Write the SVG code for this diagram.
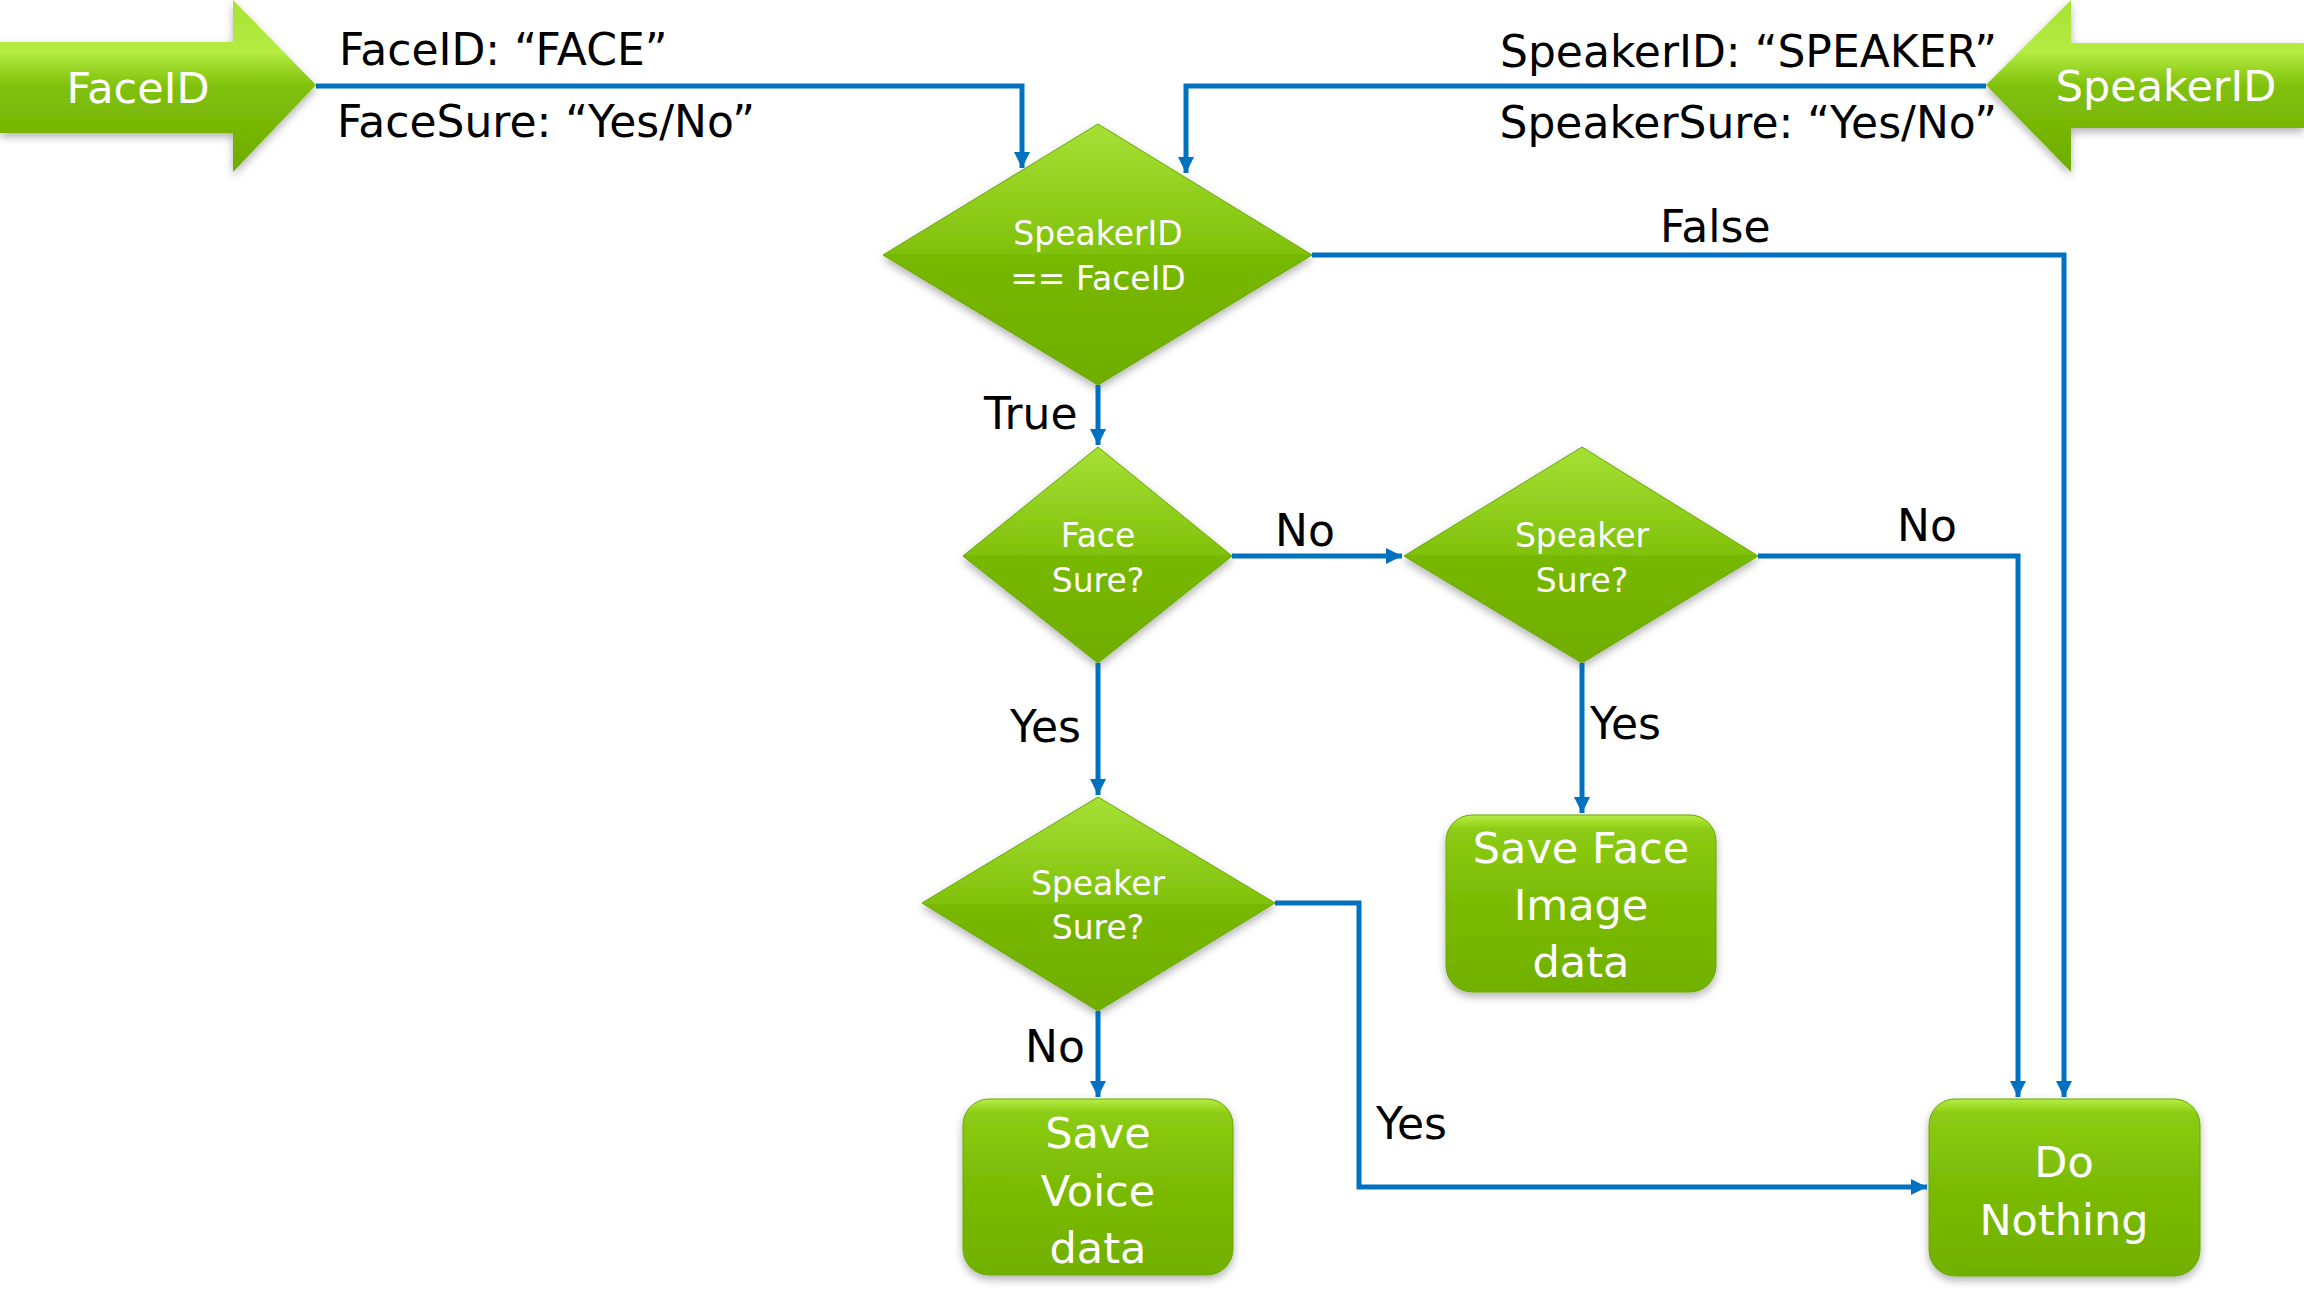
<svg xmlns="http://www.w3.org/2000/svg" width="2304" height="1296" viewBox="0 0 2304 1296">
  <defs>
    <style>
      .lbl { font-family: "DejaVu Sans", "Liberation Sans", sans-serif; font-size: 44px; fill: #000; }
      .ntxt { font-family: "DejaVu Sans", "Liberation Sans", sans-serif; fill: #fff; text-anchor: middle; }
      .dtxt { font-size: 33px; }
      .btxt { font-size: 43px; }
      .conn { fill: none; stroke: #0070c0; stroke-width: 5; marker-end: url(#tip); }
      .box { fill: url(#boxFill); stroke: #6aa800; stroke-width: 1; filter: url(#shadow); }
      .dia { fill: url(#diaFill); stroke: #6aa800; stroke-width: 1; filter: url(#shadow); }
      .arrowShape { fill: url(#arrowFill); filter: url(#shadow); }
    </style>
    <linearGradient id="boxFill" x1="0" y1="0" x2="0" y2="1">
      <stop offset="0" stop-color="#b6ee44"/>
      <stop offset="0.08" stop-color="#8ccc14"/>
      <stop offset="0.5" stop-color="#7abb04"/>
      <stop offset="1" stop-color="#71b000"/>
    </linearGradient>
    <linearGradient id="diaFill" x1="0" y1="0" x2="0" y2="1">
      <stop offset="0" stop-color="#a6e036"/>
      <stop offset="0.5" stop-color="#80c10a"/>
      <stop offset="0.5" stop-color="#77b800"/>
      <stop offset="1" stop-color="#6fae00"/>
    </linearGradient>
    <linearGradient id="arrowFill" x1="0" y1="0" x2="0" y2="1">
      <stop offset="0" stop-color="#a8e034"/>
      <stop offset="0.3" stop-color="#b4ec42"/>
      <stop offset="0.5" stop-color="#80c10a"/>
      <stop offset="1" stop-color="#6dac00"/>
    </linearGradient>
    <filter id="shadow" x="-10%" y="-10%" width="120%" height="125%">
      <feDropShadow dx="0" dy="4" stdDeviation="4" flood-color="#000" flood-opacity="0.3"/>
    </filter>
    <marker id="tip" markerUnits="userSpaceOnUse" markerWidth="16" markerHeight="16" refX="16" refY="8" orient="auto">
      <path d="M0,0 L16,8 L0,16 z" fill="#0070c0"/>
    </marker>
  </defs>

  <rect width="2304" height="1296" fill="#fff"/>

  <!-- input arrows -->
  <g id="faceid-input">
    <polygon class="arrowShape" points="0,42 233,42 233,0 316,85 233,172 233,133 0,133"/>
    <text class="ntxt btxt" x="138" y="103">FaceID</text>
  </g>
  <g id="speakerid-input">
    <polygon class="arrowShape" points="2304,43 2071,43 2071,0 1986,85 2071,172 2071,128 2304,128"/>
    <text class="ntxt btxt" x="2166" y="101">SpeakerID</text>
  </g>

  <!-- decisions -->
  <g id="id-match">
    <polygon class="dia" points="1098,124 1312,255 1098,385 883,255"/>
    <text class="ntxt dtxt" x="1098" y="245">SpeakerID</text>
    <text class="ntxt dtxt" x="1098" y="290">== FaceID</text>
  </g>
  <g id="face-sure">
    <polygon class="dia" points="1098,447 1232,556 1098,663 963,556"/>
    <text class="ntxt dtxt" x="1098" y="547">Face</text>
    <text class="ntxt dtxt" x="1098" y="592">Sure?</text>
  </g>
  <g id="speaker-sure-a">
    <polygon class="dia" points="1582,447 1758,556 1582,663 1404,556"/>
    <text class="ntxt dtxt" x="1582" y="547">Speaker</text>
    <text class="ntxt dtxt" x="1582" y="592">Sure?</text>
  </g>
  <g id="speaker-sure-b">
    <polygon class="dia" points="1098,797 1275,903 1098,1011 922,903"/>
    <text class="ntxt dtxt" x="1098" y="895">Speaker</text>
    <text class="ntxt dtxt" x="1098" y="939">Sure?</text>
  </g>

  <!-- actions -->
  <g id="save-face">
    <rect class="box" x="1446" y="815" width="270" height="177" rx="26"/>
    <text class="ntxt btxt" x="1581" y="863">Save Face</text>
    <text class="ntxt btxt" x="1581" y="920">Image</text>
    <text class="ntxt btxt" x="1581" y="977">data</text>
  </g>
  <g id="save-voice">
    <rect class="box" x="963" y="1099" width="270" height="176" rx="26"/>
    <text class="ntxt btxt" x="1098" y="1148">Save</text>
    <text class="ntxt btxt" x="1098" y="1206">Voice</text>
    <text class="ntxt btxt" x="1098" y="1263">data</text>
  </g>
  <g id="do-nothing">
    <rect class="box" x="1929" y="1099" width="271" height="177" rx="26"/>
    <text class="ntxt btxt" x="2064" y="1177">Do</text>
    <text class="ntxt btxt" x="2064" y="1235">Nothing</text>
  </g>

  <!-- connectors -->
  <g id="connectors">
    <path class="conn" d="M316,86 H1022 V168"/>
    <path class="conn" d="M1986,86 H1186 V173"/>
    <path class="conn" d="M1312,255 H2064 V1097"/>
    <path class="conn" d="M1098,385 V445"/>
    <path class="conn" d="M1232,556 H1402"/>
    <path class="conn" d="M1098,663 V795"/>
    <path class="conn" d="M1758,556 H2018 V1097"/>
    <path class="conn" d="M1582,663 V813"/>
    <path class="conn" d="M1098,1011 V1097"/>
    <path class="conn" d="M1275,903 H1359 V1187 H1927"/>
  </g>

  <!-- labels -->
  <g id="labels">
    <text class="lbl" x="339" y="65">FaceID: “FACE”</text>
    <text class="lbl" x="337" y="137">FaceSure: “Yes/No”</text>
    <text class="lbl" x="1997" y="67" text-anchor="end">SpeakerID: “SPEAKER”</text>
    <text class="lbl" x="1997" y="138" text-anchor="end">SpeakerSure: “Yes/No”</text>
    <text class="lbl" x="1660" y="242">False</text>
    <text class="lbl" x="984" y="429">True</text>
    <text class="lbl" x="1275" y="546">No</text>
    <text class="lbl" x="1897" y="541">No</text>
    <text class="lbl" x="1010" y="742">Yes</text>
    <text class="lbl" x="1590" y="739">Yes</text>
    <text class="lbl" x="1025" y="1062">No</text>
    <text class="lbl" x="1376" y="1139">Yes</text>
  </g>
</svg>
